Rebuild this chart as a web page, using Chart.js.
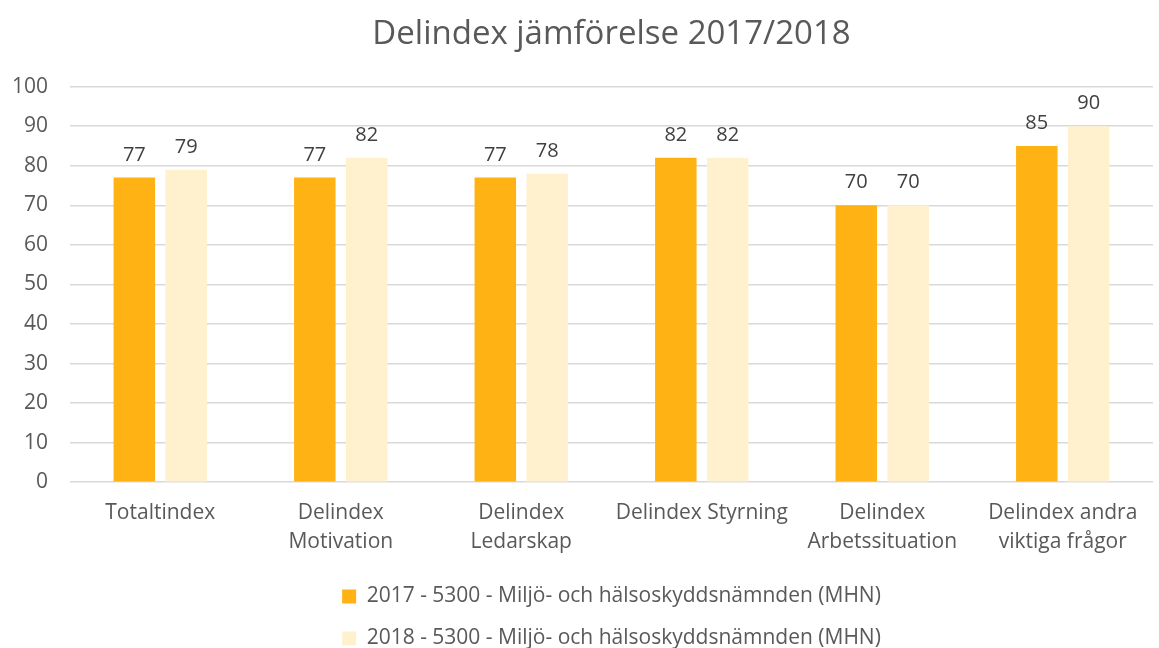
<!DOCTYPE html>
<html>
<head>
<meta charset="utf-8">
<script src="https://cdn.jsdelivr.net/npm/chart.js@4/dist/chart.umd.min.js"></script>
<style>
  body { margin: 0; background: #fff; }
  #wrap { width: 1159px; height: 648px; }
</style>
</head>
<body>
<div id="wrap"><canvas id="myChart"></canvas></div>
<script>
const categories = [
  'Totaltindex',
  ['Delindex', 'Motivation'],
  ['Delindex', 'Ledarskap'],
  'Delindex Styrning',
  ['Delindex', 'Arbetssituation'],
  ['Delindex andra', 'viktiga frågor']
];
const values2017 = [77, 77, 77, 82, 70, 85];
const values2018 = [79, 82, 78, 82, 70, 90];
const label2017 = '2017 - 5300 - Miljö- och hälsoskyddsnämnden (MHN)';
const label2018 = '2018 - 5300 - Miljö- och hälsoskyddsnämnden (MHN)';

const fontFamily = '"Open Sans", "Noto Sans", sans-serif';
const textColor = '#595959';

// etiketter ovanför staplarna
const valueLabels = {
  id: 'valueLabels',
  afterDatasetsDraw(chart) {
    const ctx = chart.ctx;
    ctx.save();
    ctx.font = '20px ' + fontFamily;
    ctx.fillStyle = '#404040';
    ctx.textAlign = 'center';
    ctx.textBaseline = 'alphabetic';
    chart.data.datasets.forEach((ds, i) => {
      chart.getDatasetMeta(i).data.forEach((bar, j) => {
        ctx.fillText(ds.data[j], bar.x, bar.y - 17);
      });
    });
    ctx.restore();
  }
};

const ctx = document.getElementById('myChart').getContext('2d');
new Chart(ctx, {
  type: 'bar',
  data: {
    labels: categories,
    datasets: [
      {
        label: label2017,
        data: values2017,
        backgroundColor: '#FFB213',
        barPercentage: 0.8,
        categoryPercentage: 0.575
      },
      {
        label: label2018,
        data: values2018,
        backgroundColor: '#FFF1CE',
        barPercentage: 0.8,
        categoryPercentage: 0.575
      }
    ]
  },
  options: {
    responsive: true,
    maintainAspectRatio: false,
    animation: false,
    layout: { padding: { left: -10, right: 6, top: 15, bottom: -11 } },
    plugins: {
      title: {
        display: true,
        fullSize: false,
        text: 'Delindex jämförelse 2017/2018',
        color: textColor,
        font: { family: fontFamily, size: 33, weight: 'normal' },
        padding: { top: 0, bottom: 32 }
      },
      legend: {
        position: 'bottom',
        fullSize: false,
        labels: {
          color: textColor,
          font: { family: fontFamily, size: 21 },
          boxWidth: 14,
          boxHeight: 14,
          padding: 21
        }
      },
      tooltip: { enabled: false }
    },
    scales: {
      x: {
        grid: { display: false },
        border: { display: false },
        ticks: {
          color: textColor,
          font: { family: fontFamily, size: 21, lineHeight: 1.4 },
          padding: 8,
          maxRotation: 0
        }
      },
      y: {
        min: 0,
        max: 100,
        grid: { color: '#D9D9D9', lineWidth: 1.5, drawTicks: false },
        border: { display: false },
        ticks: {
          stepSize: 10,
          color: textColor,
          font: { family: fontFamily, size: 21 },
          padding: 22
        }
      }
    }
  },
  plugins: [valueLabels]
});
</script>
</body>
</html>
